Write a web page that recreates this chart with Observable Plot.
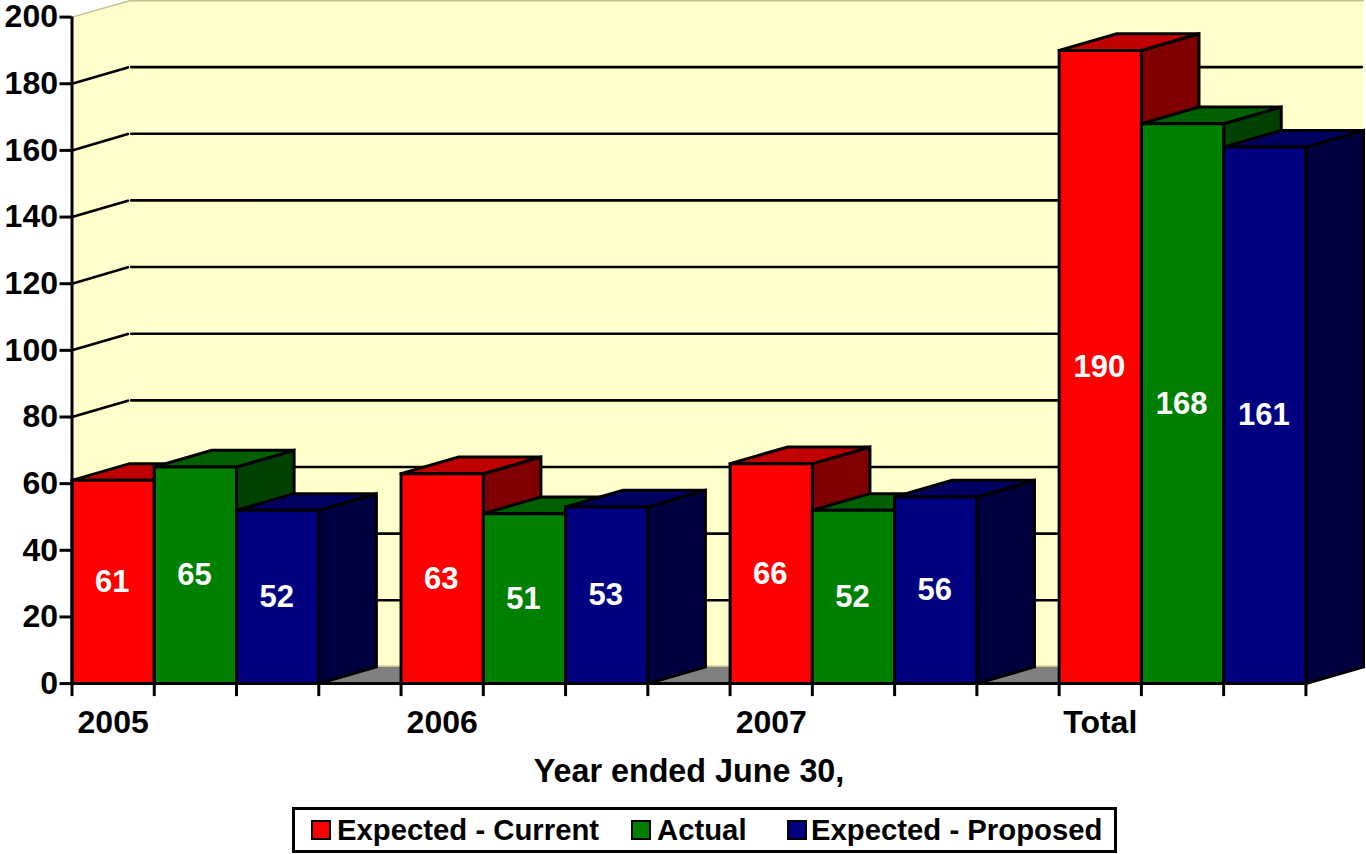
<!DOCTYPE html>
<html>
<head>
<meta charset="utf-8">
<script src="https://cdn.jsdelivr.net/npm/d3@7"></script>
<script src="https://cdn.jsdelivr.net/npm/@observablehq/plot@0.6"></script>
<style>
  html, body { margin: 0; padding: 0; background: #fff; }
  body { position: relative; width: 1366px; height: 854px; overflow: hidden;
         font-family: "Liberation Sans", Arial, sans-serif; font-weight: bold; color: #000; }
  #chart svg { display: block; }
  #xlabel { position: absolute; left: 289px; width: 800px; top: 753px; text-align: center;
            font-size: 32.3px; line-height: 36px; }
  #legend { position: absolute; left: 292px; top: 807px; width: 819px; height: 40px;
            border: 3px solid #000; background: #fff; font-size: 29.3px; line-height: 39px; }
  #legend .item { position: absolute; top: 0; white-space: nowrap; }
  #legend .swatch { position: absolute; top: 10px; width: 16px; height: 16px; border: 2px solid #000; }
</style>
</head>
<body>
<div id="chart"></div>
<div id="xlabel"></div>
<div id="legend"></div>
<script>
// Values by year, one array per series
const years = ["2005", "2006", "2007", "Total"];
const seriesNames = ["Expected - Current", "Actual", "Expected - Proposed"];
const expectedCurrent = [61, 63, 66, 190];
const actual = [65, 51, 52, 168];
const expectedProposed = [52, 53, 56, 161];
const seriesValues = [expectedCurrent, actual, expectedProposed];

// Front, top and side shades of each series
const frontColors = ["#ff0000", "#008000", "#000080"];
const topColors = ["#c00000", "#006000", "#000060"];
const sideColors = ["#800000", "#004000", "#000040"];

const xAxisTitle = "Year ended June 30,";
const yTicks = d3.range(0, 201, 20);
const slotTicks = d3.range(0, 16);

// Oblique projection: how far the back plane sits from the front plane, in axis units
const depthX = 0.7;
const depthY = 5;
const slotsPerGroup = 4;
const lastSlot = 15;
const font = '"Liberation Sans", Arial, sans-serif';

const polygon = (id, color, corners) =>
  corners.concat([corners[0]]).map(([x, y]) => ({id, color, x, y}));

// Chart walls
const wall = polygon("wall", "#ffffcc", [
  [0, 0], [0, 200], [depthX, 200 + depthY], [lastSlot + depthX, 200 + depthY],
  [lastSlot + depthX, depthY], [depthX, depthY]
]);
const floor = polygon("floor", "#808080", [
  [0, 0], [depthX, depthY], [lastSlot + depthX, depthY], [lastSlot, 0]
]);

// Gridlines climb the side wall, then run along the back wall
const gridValues = yTicks.filter(v => v > 0 && v < 200);
const gridRows = gridValues.flatMap(v => [
  {id: `s${v}`, x: 0, y: v}, {id: `s${v}`, x: depthX - 0.02, y: v + depthY - 0.1},
  {id: `b${v}`, x: depthX + 0.02, y: v + depthY}, {id: `b${v}`, x: lastSlot + depthX - 0.02, y: v + depthY}
]);
const paleEdges = [
  {id: "top", x: 0, y: 200}, {id: "top", x: depthX, y: 200 + depthY - 0.1}, {id: "top", x: lastSlot + depthX, y: 200 + depthY - 0.1},
  {id: "low", x: depthX, y: depthY + 0.2}, {id: "low", x: lastSlot + depthX, y: depthY + 0.2}
];

// Each bar is painted side, top, front, from left to right
const faces = [];
const valueLabels = [];
years.forEach((year, g) => {
  seriesValues.forEach((values, s) => {
    const x0 = g * slotsPerGroup + s;
    const x1 = x0 + 1;
    const v = values[g];
    faces.push(...polygon(`${year}-${s}-side`, sideColors[s], [
      [x1, 0], [x1 + depthX, depthY], [x1 + depthX, v + depthY], [x1, v]
    ]));
    faces.push(...polygon(`${year}-${s}-top`, topColors[s], [
      [x0, v], [x0 + depthX, v + depthY], [x1 + depthX, v + depthY], [x1, v]
    ]));
    faces.push(...polygon(`${year}-${s}-front`, frontColors[s], [
      [x0, 0], [x0, v], [x1, v], [x1, 0]
    ]));
    valueLabels.push({x: x0 + 0.5, y: v / 2, label: String(v)});
  });
});
const yearLabels = years.map((year, g) => ({x: g * slotsPerGroup + 0.5, y: 0, label: year}));

const lineWeight = 3;

const chart = Plot.plot({
  width: 1366,
  height: 760,
  marginLeft: 71.5,
  marginRight: 3,
  marginTop: 16.6,
  marginBottom: 76.9,
  style: {background: "#fff", fontFamily: font, color: "#000", overflow: "visible"},
  x: {domain: [0, lastSlot + depthX], axis: null},
  y: {domain: [0, 200], axis: null},
  color: {type: "identity"},
  marks: [
    Plot.line(wall, {x: "x", y: "y", z: "id", fill: "color", stroke: null}),
    Plot.line(floor, {x: "x", y: "y", z: "id", fill: "color", stroke: null}),
    Plot.line(paleEdges, {x: "x", y: "y", z: "id", stroke: "#c4c490", strokeWidth: 1.5}),
    Plot.line(gridRows, {x: "x", y: "y", z: "id", stroke: "#000", strokeWidth: 2.6}),
    Plot.line(faces, {x: "x", y: "y", z: "id", fill: "color", stroke: "#000",
                      strokeWidth: lineWeight, strokeLinejoin: "miter", strokeMiterlimit: 2}),
    Plot.ruleX([0], {y1: 0, y2: 200, stroke: "#000", strokeWidth: lineWeight}),
    Plot.ruleY([0], {x1: 0, x2: lastSlot, stroke: "#000", strokeWidth: lineWeight}),
    Plot.axisY({ticks: yTicks, anchor: "left", tickSize: 12, tickPadding: 2, label: null,
                fontSize: 32, fontWeight: "bold", fontFamily: font, strokeWidth: lineWeight, strokeOpacity: 1, fill: "#000"}),
    Plot.axisX({ticks: slotTicks, anchor: "bottom", tickSize: 13, tickFormat: () => "", label: null,
                strokeWidth: lineWeight, strokeOpacity: 1}),
    Plot.text(yearLabels, {x: "x", y: "y", text: "label", dy: 39, fontSize: 32, fontWeight: "bold",
                           fontFamily: font, fill: "#000"}),
    Plot.text(valueLabels, {x: "x", y: "y", text: "label", dx: -1, fontSize: 31, fontWeight: "bold",
                            fontFamily: font, fill: "#fff"})
  ]
});
document.getElementById("chart").append(chart);

document.getElementById("xlabel").textContent = xAxisTitle;

// Legend entries sit on fixed offsets inside the frame
const legend = document.getElementById("legend");
const swatchLeft = [16, 336, 492];
const textLeft = [42, 362, 516];
seriesNames.forEach((name, i) => {
  const swatch = document.createElement("div");
  swatch.className = "swatch";
  swatch.style.left = swatchLeft[i] + "px";
  swatch.style.background = frontColors[i];
  const label = document.createElement("div");
  label.className = "item";
  label.style.left = textLeft[i] + "px";
  label.textContent = name;
  legend.append(swatch, label);
});
</script>
</body>
</html>
